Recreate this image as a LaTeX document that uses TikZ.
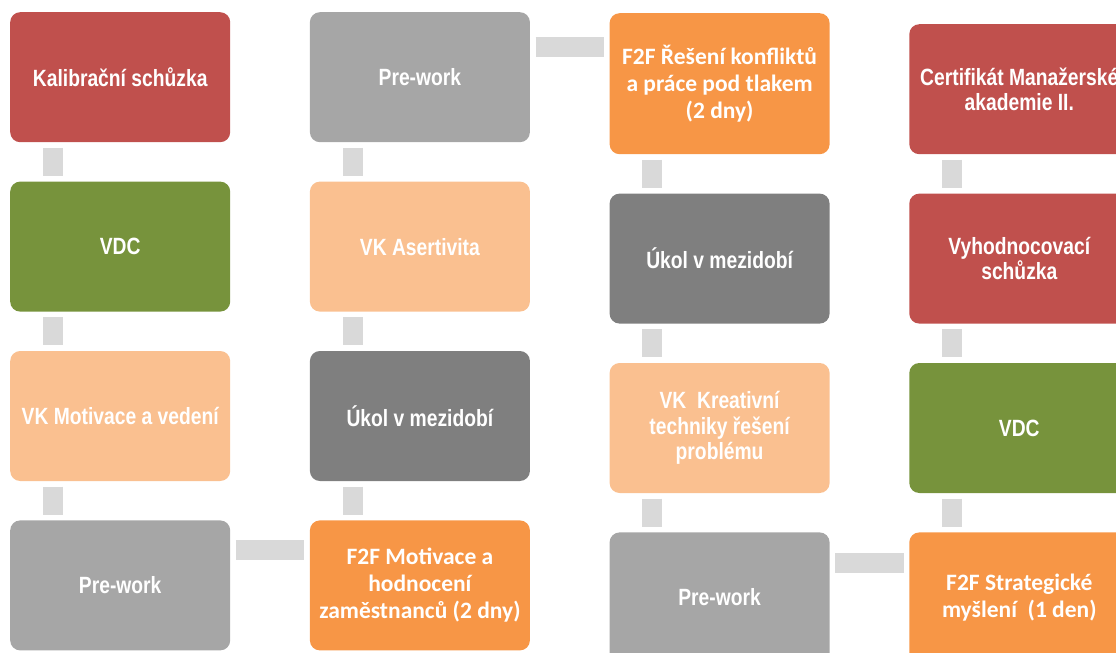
\documentclass[tikz,border=0pt]{standalone}
\usepackage{fontspec}
\setmainfont{Liberation Sans}
\newfontfamily\narrowfont[FakeStretch=0.82]{Liberation Sans}
\newfontfamily\calfont{Carlito}
\usetikzlibrary{positioning}
\definecolor{boxred}{RGB}{192,80,77}
\definecolor{boxgreen}{RGB}{119,147,60}
\definecolor{boxpeach}{RGB}{250,192,144}
\definecolor{boxgray}{RGB}{166,166,166}
\definecolor{boxdark}{RGB}{127,127,127}
\definecolor{boxorange}{RGB}{247,150,70}
\definecolor{linkgray}{RGB}{217,217,217}

\begin{document}
\begin{tikzpicture}[node distance=39pt and 79.3pt,
  box/.style={rounded corners=10pt,minimum width=220pt,minimum height=130pt,inner sep=0pt,align=center,text=white,font=\narrowfont\bfseries\fontsize{23.5}{25.5}\selectfont},
  f2f/.style={box,fill=boxorange,font=\calfont\bfseries\fontsize{23.5}{27}\selectfont},
  link/.style={draw=linkgray,line width=20pt,shorten <=5.5pt,shorten >=5.5pt}]
\useasboundingbox (0,0) rectangle (1116pt,-653pt);
\clip (0,0) rectangle (1116pt,-653pt);
% first column, top to bottom
\node[box,fill=boxred,anchor=north west] (kal) at (10pt,-12pt) {Kalibrační schůzka};
\node[box,fill=boxgreen,below=of kal] (vdcA) {VDC};
\node[box,fill=boxpeach,below=of vdcA] (vkmot) {VK Motivace a vedení};
\node[box,fill=boxgray,below=of vkmot] (prewA) {Pre-work};
% second column, bottom to top
\node[f2f,right=of prewA] (f2fmot) {F2F Motivace a\\hodnocení\\zaměstnanců (2 dny)};
\node[box,fill=boxdark,above=of f2fmot] (ukolA) {Úkol v mezidobí};
\node[box,fill=boxpeach,above=of ukolA] (vkas) {VK Asertivita};
\node[box,fill=boxgray,above=of vkas] (prewB) {Pre-work};
% third column
\node[box,fill=boxdark,right=of vkas,yshift=-12pt] (ukolB) {Úkol v mezidobí};
\node[f2f,above=of ukolB,minimum height=141pt] (f2fkon) {F2F Řešení konfliktů\\a práce pod tlakem\\(2 dny)};
\node[box,fill=boxpeach,below=of ukolB] (vkkre) {VK\ \ Kreativní\\techniky řešení\\problému};
\node[box,fill=boxgray,below=of vkkre] (prewC) {Pre-work};
% fourth column
\node[f2f,right=of prewC] (f2fstr) {F2F Strategické\\myšlení\ \ (1 den)};
\node[box,fill=boxgreen,above=of f2fstr] (vdcB) {VDC};
\node[box,fill=boxred,above=of vdcB] (vyhod) {Vyhodnocovací\\schůzka};
\node[box,fill=boxred,above=of vyhod] (cert) {Certifikát Manažerské\\akademie II.};
% links
\foreach \t/\b in {kal/vdcA,vdcA/vkmot,vkmot/prewA,prewB/vkas,vkas/ukolA,ukolA/f2fmot,f2fkon/ukolB,ukolB/vkkre,vkkre/prewC,cert/vyhod,vyhod/vdcB,vdcB/f2fstr}
  \draw[link] ([xshift=43pt]\t.south west) -- ([xshift=43pt]\b.north west);
\draw[link] ([yshift=-30pt]prewA.north east) -- ([yshift=-30pt]prewA.north east -| f2fmot.west);
\draw[link] ([yshift=-35pt]prewB.north east) -- ([yshift=-35pt]prewB.north east -| f2fkon.west);
\draw[link] ([yshift=-31pt]prewC.north east) -- ([yshift=-31pt]prewC.north east -| f2fstr.west);
\end{tikzpicture}
\end{document}
